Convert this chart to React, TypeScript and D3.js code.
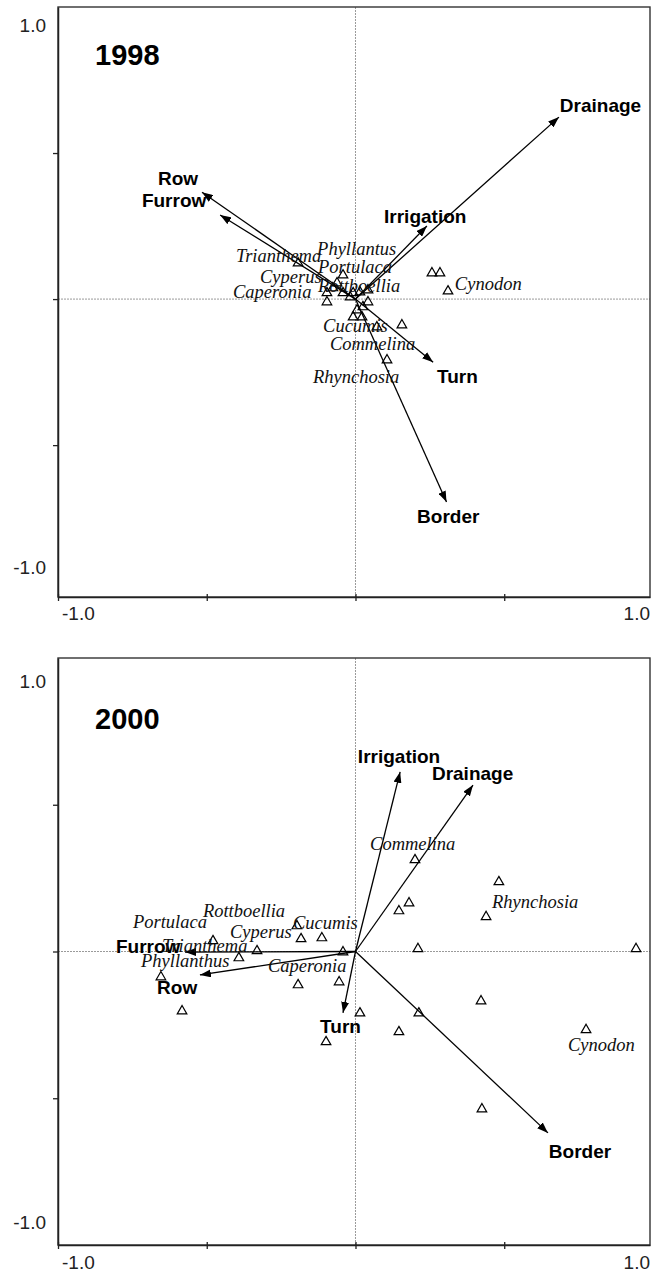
import * as React from "react";
import * as d3 from "d3";

// ---- data (data units) ----

// species scores, 1998
const species1998: [number, number][] = [
  [-0.193, 0.123], [-0.042, 0.082], [-0.076, 0.038], [-0.096, 0.021],
  [-0.096, -0.01], [-0.042, 0.021], [-0.018, 0.007], [-0.008, 0.021],
  [0.015, 0.024], [0.042, 0.031], [0.042, -0.01], [0.005, -0.038],
  [-0.008, -0.062], [0.022, -0.062], [0.025, -0.027], [0.072, -0.096],
  [0.156, -0.089], [0.106, -0.209], [0.257, 0.089], [0.284, 0.089],
  [0.311, 0.027], [-0.062, 0.055],
];

// species scores, 2000
const species2000: [number, number][] = [
  [0.2, 0.312], [0.482, 0.237], [0.18, 0.165], [0.146, 0.138],
  [0.439, 0.118], [-0.197, 0.087], [-0.479, 0.036], [-0.183, 0.043],
  [-0.113, 0.046], [-0.331, 0.002], [-0.392, -0.022], [-0.042, -0.002],
  [0.21, 0.009], [0.943, 0.009], [-0.654, -0.087], [-0.583, -0.203],
  [-0.193, -0.114], [-0.055, -0.104], [0.422, -0.169], [0.213, -0.21],
  [0.015, -0.21], [0.146, -0.274], [-0.099, -0.308], [0.775, -0.267],
  [0.425, -0.537],
];

// species names and where their labels sit
const speciesLabels1998 = [
  { name: "Trianthema", x: -0.402, y: 0.127 },
  { name: "Phyllantus", x: -0.129, y: 0.151 },
  { name: "Portulaca", x: -0.126, y: 0.089 },
  { name: "Cyperus", x: -0.321, y: 0.055 },
  { name: "Rottboellia", x: -0.126, y: 0.024 },
  { name: "Caperonia", x: -0.412, y: 0.003 },
  { name: "Cucumis", x: -0.109, y: -0.113 },
  { name: "Commelina", x: -0.086, y: -0.175 },
  { name: "Rhynchosia", x: -0.143, y: -0.288 },
  { name: "Cynodon", x: 0.334, y: 0.031 },
];

const speciesLabels2000 = [
  { name: "Commelina", x: 0.049, y: 0.346 },
  { name: "Rhynchosia", x: 0.459, y: 0.148 },
  { name: "Rottboellia", x: -0.513, y: 0.118 },
  { name: "Portulaca", x: -0.748, y: 0.08 },
  { name: "Cucumis", x: -0.21, y: 0.077 },
  { name: "Cyperus", x: -0.422, y: 0.046 },
  { name: "Trianthema", x: -0.65, y: -0.002 },
  { name: "Phyllanthus", x: -0.721, y: -0.053 },
  { name: "Caperonia", x: -0.294, y: -0.07 },
  { name: "Cynodon", x: 0.714, y: -0.339 },
];

// environmental variables: arrow tip (x, y) and label anchor (lx, ly)
const env1998 = [
  { name: "Drainage", x: 0.684, y: 0.623, lx: 0.687, ly: 0.64 },
  { name: "Irrigation", x: 0.24, y: 0.25, lx: 0.096, ly: 0.26 },
  { name: "Row", x: -0.516, y: 0.366, lx: -0.664, ly: 0.39 },
  { name: "Furrow", x: -0.455, y: 0.288, lx: -0.718, ly: 0.315 },
  { name: "Turn", x: 0.261, y: -0.216, lx: 0.274, ly: -0.288 },
  { name: "Border", x: 0.306, y: -0.695, lx: 0.207, ly: -0.767 },
];

const env2000 = [
  { name: "Irrigation", x: 0.15, y: 0.612, lx: 0.008, ly: 0.642 },
  { name: "Drainage", x: 0.395, y: 0.567, lx: 0.257, ly: 0.584 },
  { name: "Furrow", x: -0.573, y: -0.002, lx: -0.805, ly: -0.005 },
  { name: "Row", x: -0.523, y: -0.08, lx: -0.667, ly: -0.145 },
  { name: "Turn", x: -0.042, y: -0.209, lx: -0.119, ly: -0.278 },
  { name: "Border", x: 0.647, y: -0.618, lx: 0.65, ly: -0.703 },
];

const years = ["1998", "2000"];
const axisTicks = [-1, -0.5, 0, 0.5, 1];

// ---- layout ----
const WIDTH = 652;
const HEIGHT = 1277;
const LEFT = 58;
const RIGHT = 650;

const panels = [
  {
    year: years[0], top: 7, bottom: 597, yMin: -1.02,
    species: species1998, labels: speciesLabels1998, env: env1998,
    yearY: 65, topLabelY: 32, bottomLabelY: 574, xLabelY: 620,
  },
  {
    year: years[1], top: 658, bottom: 1245, yMin: -1,
    species: species2000, labels: speciesLabels2000, env: env2000,
    yearY: 729, topLabelY: 688, bottomLabelY: 1229, xLabelY: 1269,
  },
];

const SANS = "'Liberation Sans', Arial, sans-serif";
const SERIF = "'Liberation Serif', 'Times New Roman', serif";

export default function App() {
  const ref = React.useRef<SVGSVGElement>(null);

  React.useEffect(() => {
    if (!ref.current) return;
    const svg = d3.select(ref.current);
    svg.selectAll("*").remove();

    svg
      .append("defs")
      .append("marker")
      .attr("id", "head")
      .attr("viewBox", "0 0 11 8")
      .attr("refX", 11)
      .attr("refY", 4)
      .attr("markerWidth", 11)
      .attr("markerHeight", 8)
      .attr("markerUnits", "userSpaceOnUse")
      .attr("orient", "auto")
      .append("path")
      .attr("d", "M0,0 L11,4 L0,8 Z")
      .attr("fill", "#000");

    const x = d3.scaleLinear().domain([-1, 0.99]).range([LEFT, RIGHT]);
    const tri = d3.symbol().type(d3.symbolTriangle).size(40);

    panels.forEach(p => {
      const y = d3.scaleLinear().domain([p.yMin, 1]).range([p.bottom, p.top]);
      const g = svg.append("g");

      // zero lines
      g.append("line")
        .attr("x1", x(0)).attr("x2", x(0))
        .attr("y1", p.top).attr("y2", p.bottom)
        .attr("stroke", "#9a9a9a").attr("stroke-width", 1)
        .attr("stroke-dasharray", "2,1");
      g.append("line")
        .attr("x1", LEFT).attr("x2", RIGHT)
        .attr("y1", y(0)).attr("y2", y(0))
        .attr("stroke", "#9a9a9a").attr("stroke-width", 1)
        .attr("stroke-dasharray", "2,1");

      // frame
      g.append("rect")
        .attr("x", LEFT).attr("y", p.top)
        .attr("width", RIGHT - LEFT).attr("height", p.bottom - p.top)
        .attr("fill", "none").attr("stroke", "#333").attr("stroke-width", 1.4);

      // left axis
      const ya = g.append("g")
        .attr("transform", `translate(${LEFT},0)`)
        .call(
          d3.axisLeft(y).tickValues([-0.5, 0, 0.5]).tickSize(5)
            .tickSizeOuter(0).tickFormat(() => "")
        );
      ya.select(".domain").attr("stroke", "#222").attr("stroke-width", 1.5);
      ya.selectAll(".tick line").attr("stroke", "#222").attr("stroke-width", 1.3);

      // bottom axis, ticks crossing the line
      const xa = g.append("g")
        .attr("transform", `translate(0,${p.bottom})`)
        .call(
          d3.axisBottom(x).tickValues(axisTicks).tickSize(4)
            .tickSizeOuter(0).tickFormat(() => "")
        );
      xa.select(".domain").attr("stroke", "#222").attr("stroke-width", 1.5);
      xa.selectAll(".tick line")
        .attr("y1", -3).attr("y2", 4)
        .attr("stroke", "#222").attr("stroke-width", 1.3);

      // axis labels
      const lab = (t: string, lx: number, ly: number, anchor: string) =>
        g.append("text")
          .attr("x", lx).attr("y", ly)
          .attr("text-anchor", anchor)
          .attr("font-family", SANS).attr("font-size", 19)
          .attr("fill", "#222")
          .text(t);
      lab("1.0", 46, p.topLabelY, "end");
      lab("-1.0", 46, p.bottomLabelY, "end");
      lab("-1.0", x(-1) + 4, p.xLabelY, "start");
      lab("1.0", WIDTH - 2, p.xLabelY, "end");

      // year
      g.append("text")
        .attr("x", 95).attr("y", p.yearY)
        .attr("font-family", SANS).attr("font-weight", "bold")
        .attr("font-size", 29).attr("fill", "#000")
        .text(p.year);

      // species triangles
      g.selectAll("path.sp")
        .data(p.species)
        .enter()
        .append("path")
        .attr("class", "sp")
        .attr("d", tri)
        .attr("transform", d => `translate(${x(d[0])},${y(d[1])})`)
        .attr("fill", "none")
        .attr("stroke", "#000")
        .attr("stroke-width", 1.2);

      // environmental arrows
      g.selectAll("line.env")
        .data(p.env)
        .enter()
        .append("line")
        .attr("class", "env")
        .attr("x1", x(0)).attr("y1", y(0))
        .attr("x2", d => x(d.x)).attr("y2", d => y(d.y))
        .attr("stroke", "#000")
        .attr("stroke-width", 1.3)
        .attr("marker-end", "url(#head)");

      g.selectAll("text.envl")
        .data(p.env)
        .enter()
        .append("text")
        .attr("class", "envl")
        .attr("x", d => x(d.lx)).attr("y", d => y(d.ly))
        .attr("font-family", SANS).attr("font-weight", "bold")
        .attr("font-size", 19).attr("fill", "#000")
        .text(d => d.name);

      // species labels
      g.selectAll("text.spl")
        .data(p.labels)
        .enter()
        .append("text")
        .attr("class", "spl")
        .attr("x", d => x(d.x)).attr("y", d => y(d.y))
        .attr("font-family", SERIF).attr("font-style", "italic")
        .attr("font-size", 18.5).attr("fill", "#111")
        .text(d => d.name);
    });
  }, []);

  return (
    <svg
      ref={ref}
      width={WIDTH}
      height={HEIGHT}
      style={{ position: "absolute", left: 0, top: 0, background: "#fff" }}
    />
  );
}
